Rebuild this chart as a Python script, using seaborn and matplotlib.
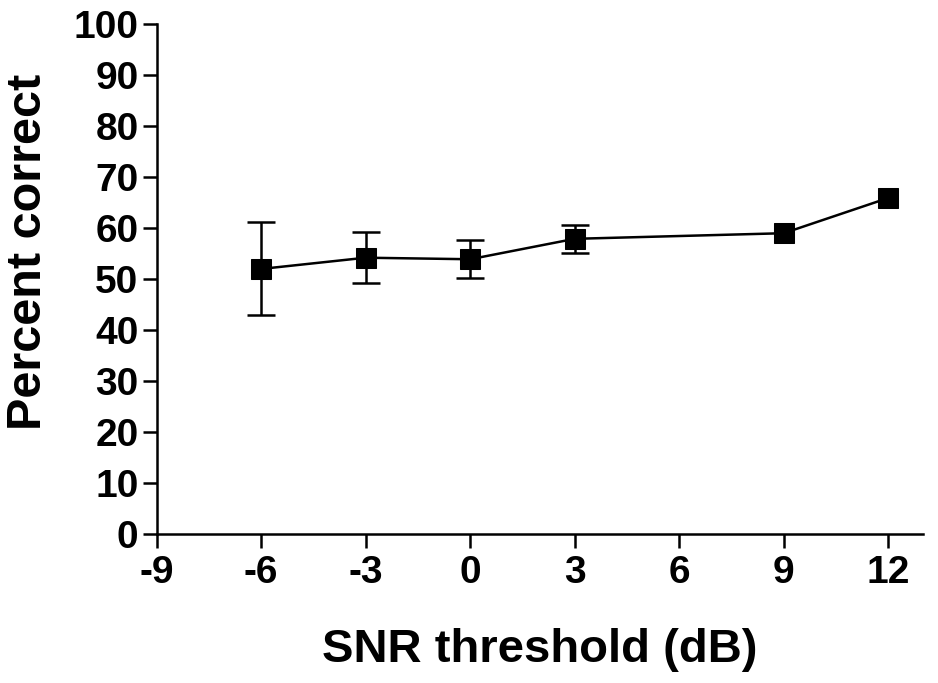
import matplotlib
matplotlib.use("Agg")
from matplotlib import pyplot as plt
import pandas as pd
import seaborn as sns

# SNR threshold (dB) vs percent correct, mean +/- error
# (errors at 9 and 12 dB are smaller than the marker, not drawn)
snr = [-6, -3, 0, 3, 9, 12]
pct_correct = [52.0, 54.2, 53.9, 57.9, 59.0, 65.9]
pct_err = [9.1, 5.0, 3.75, 2.8, 0, 0]

df = pd.DataFrame({"SNR": snr, "Percent": pct_correct, "Err": pct_err})
eb = df[df["Err"] > 0]

sns.set_style("ticks")
plt.rcParams["font.family"] = ["Liberation Sans", "DejaVu Sans"]
plt.rcParams["font.weight"] = "bold"
plt.rcParams["axes.unicode_minus"] = False

fig = plt.figure(figsize=(9.38, 6.83), dpi=100)
ax = fig.add_axes([0.167, 0.2177, 0.817, 0.7472])

ax.errorbar(eb["SNR"], eb["Percent"], yerr=eb["Err"], fmt="none",
            ecolor="black", elinewidth=1.8, capsize=10, capthick=1.8, zorder=2)
sns.lineplot(data=df, x="SNR", y="Percent", ax=ax, color="black",
             linewidth=1.8, marker="s", markersize=14.5, markeredgecolor="black",
             zorder=3)

ax.set_xlim(-9, 13)
ax.set_ylim(0, 100)
ax.set_xticks([-9, -6, -3, 0, 3, 6, 9, 12])
ax.set_yticks(range(0, 101, 10))
for sp in ["top", "right"]:
    ax.spines[sp].set_visible(False)
for sp in ["left", "bottom"]:
    ax.spines[sp].set_linewidth(1.8)
    ax.spines[sp].set_color("black")
ax.tick_params(axis="both", length=10, width=1.8, color="black",
               labelsize=28, labelcolor="black")
ax.tick_params(axis="y", pad=3)
ax.tick_params(axis="x", pad=5)
for lab in ax.get_xticklabels() + ax.get_yticklabels():
    lab.set_fontweight("bold")

ax.set_xlabel("SNR threshold (dB)", fontsize=34, fontweight="bold",
              va="center", color="black")
ax.set_ylabel("Percent correct", fontsize=35, fontweight="bold",
              va="center", color="black")
ax.xaxis.set_label_coords(0.5, -0.227)
ax.yaxis.set_label_coords(-0.1667, 0.553)

fig.savefig("out.png", dpi=100)
